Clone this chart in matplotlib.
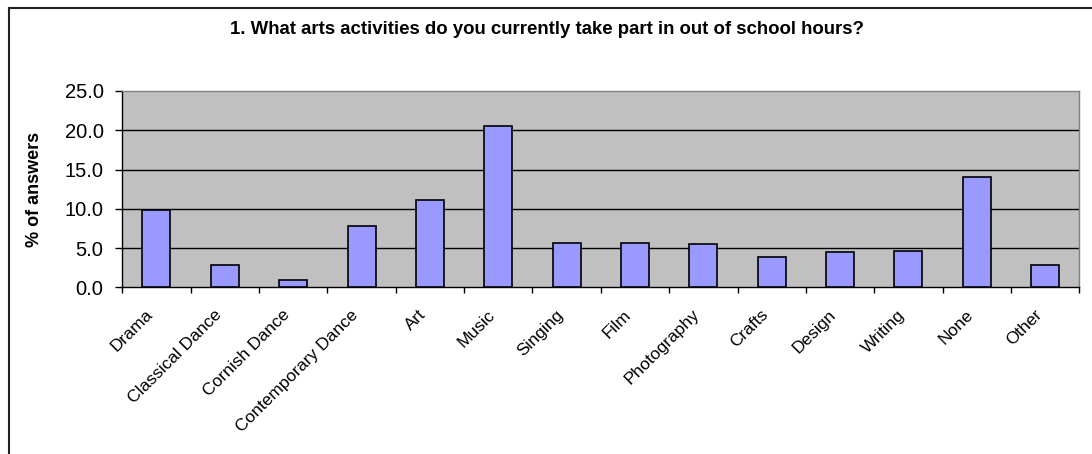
import matplotlib
matplotlib.use('Agg')
import matplotlib.pyplot as plt
import numpy as np
from matplotlib.lines import Line2D
from matplotlib.transforms import ScaledTranslation

plt.rcParams['font.family'] = ['Liberation Sans', 'DejaVu Sans']

# data
categories = ['Drama', 'Classical Dance', 'Cornish Dance', 'Contemporary Dance', 'Art',
              'Music', 'Singing', 'Film', 'Photography', 'Crafts', 'Design', 'Writing',
              'None', 'Other']
percent_answers = [9.8, 2.8, 0.9, 7.8, 11.1, 20.5, 5.7, 5.7, 5.5, 3.9, 4.5, 4.6, 14.1, 2.8]
y_ticks = [0, 5, 10, 15, 20, 25]

title = '1. What arts activities do you currently take part in out of school hours?'
y_label = '% of answers'

W, H = 1092, 454
fig = plt.figure(figsize=(W / 100, H / 100), dpi=100)
ax = fig.add_axes([122.3 / W, 1 - 287.3 / H, 957 / W, 196.3 / H])

x = np.arange(len(categories))
ax.set_facecolor('#C0C0C0')
ax.bar(x, percent_answers, width=0.41, color='#9999FF', edgecolor='black',
       linewidth=1.2, zorder=3)

ax.set_xlim(-0.5, len(categories) - 0.5)
ax.set_ylim(0, 25)
ax.set_yticks(y_ticks)
ax.set_yticklabels([f'{v:.1f}' for v in y_ticks], fontsize=14.5)
for v in y_ticks[1:-1]:
    ax.axhline(v, color='black', linewidth=1.0, zorder=1)

# category labels at centres, tick marks at boundaries
ax.set_xticks(x)
ax.set_xticklabels(categories, rotation=45, ha='right', va='center',
                   rotation_mode='anchor', fontsize=12.5)
ax.set_xticks(np.arange(len(categories) + 1) - 0.5, minor=True)
ax.tick_params(axis='x', which='major', length=0, pad=18)
ax.tick_params(axis='x', which='minor', length=4.5, width=1, direction='out')
ax.tick_params(axis='y', length=5, width=1, direction='out', pad=8.5)
shift = ScaledTranslation(-6 / 100, 0, fig.dpi_scale_trans)
for lbl in ax.get_xticklabels():
    lbl.set_transform(lbl.get_transform() + shift)

for side in ['left', 'bottom']:
    ax.spines[side].set_color('black')
    ax.spines[side].set_linewidth(1.0)
for side in ['top', 'right']:
    ax.spines[side].set_color('#808080')
    ax.spines[side].set_linewidth(1.0)

ax.set_ylabel(y_label, fontsize=13, fontweight='bold')
ax.yaxis.set_label_coords(-0.0829, 0.5)
fig.text(547 / W, 1 - 30 / H, title, ha='center', va='center',
         fontsize=13.4, fontweight='bold')

# outer chart frame (only top and left edges visible)
fig.add_artist(Line2D([9 / W, 1], [1 - 7.5 / H, 1 - 7.5 / H], color='#222222',
                      linewidth=1.5, transform=fig.transFigure))
fig.add_artist(Line2D([9 / W, 9 / W], [0, 1 - 7.5 / H], color='#222222',
                      linewidth=1.5, transform=fig.transFigure))

fig.savefig('out.png', dpi=100)
